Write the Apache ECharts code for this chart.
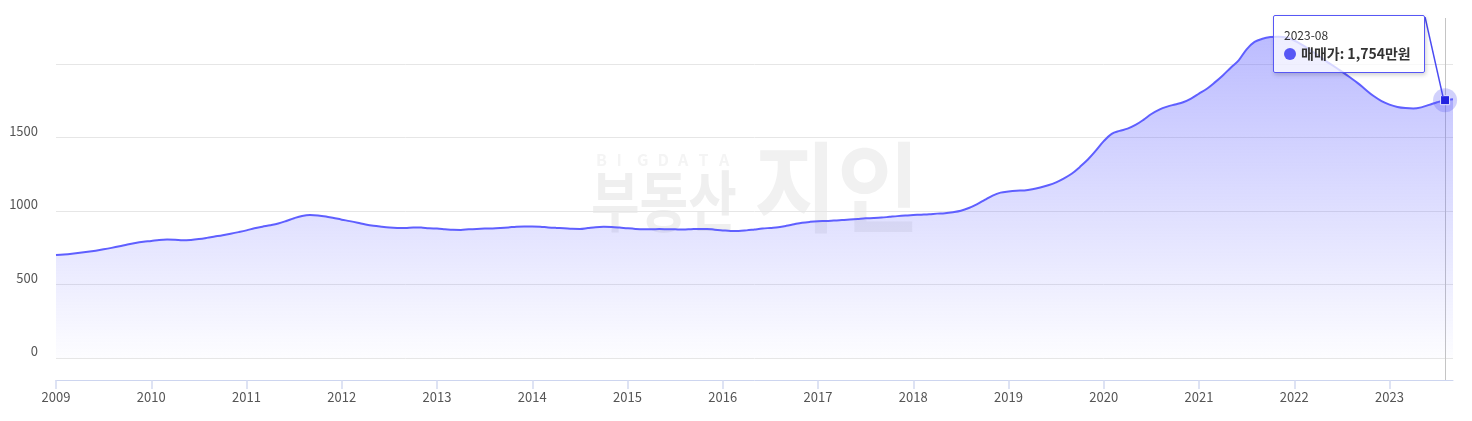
<!DOCTYPE html>
<html><head><meta charset="utf-8">
<script src="https://cdn.jsdelivr.net/npm/echarts@6/dist/echarts.min.js"></script>
<style>html,body{margin:0;padding:0;background:#fff;}#c{width:1472px;height:421px;}</style>
</head><body><div id="c"></div>
<script>
const years = ['2009','2010','2011','2012','2013','2014','2015','2016','2017','2018','2019','2020','2021','2022','2023'];
const monthNames = ['01','02','03','04','05','06','07','08','09','10','11','12'];
const lastMonthIndex2023 = 8; // data runs through 2023-09
const categories = [];
years.forEach(function (y, yi) {
  monthNames.forEach(function (m, mi) {
    if (yi === years.length - 1 && mi > lastMonthIndex2023) return;
    categories.push(y + '-' + m);
  });
});
const seriesName = '매매가';
const unit = '만원';
const prices = [
  700,704,709,715,722,730,739,749,760,772,782,790,
  796,803,806,804,800,803,809,817,826,835,845,856,
  868,882,893,903,915,932,951,966,972,970,963,952,
  941,931,920,908,899,893,888,885,884,888,887,882,
  880,876,872,871,875,878,880,881,884,888,893,895,
  895,893,888,885,883,879,878,884,890,892,891,887,
  882,878,876,876,877,876,875,874,876,878,878,873,
  868,864,864,868,874,880,885,890,899,910,920,926,
  930,932,935,938,942,946,950,952,955,960,965,969,
  972,975,978,982,985,992,1002,1020,1045,1075,1105,1125,
  1133,1138,1140,1148,1160,1175,1195,1222,1255,1300,1350,1410,
  1475,1525,1545,1560,1585,1620,1660,1690,1710,1725,1740,1765,
  1798,1832,1875,1922,1975,2025,2100,2150,2172,2183,2186,2180,
  2160,2130,2095,2058,2020,1985,1948,1910,1870,1825,1782,1748,
  1724,1708,1700,1697,1705,1722,1740,1754,1760
];
const yTicks = [0, 500, 1000, 1500];
const focusCategory = '2023-08';
const focusIndex = categories.indexOf(focusCategory);

function fmt(n) { return String(n).replace(/\B(?=(\d{3})+(?!\d))/g, ','); }

const chart = echarts.init(document.getElementById('c'), null, {renderer: 'canvas'});
const FONT = '"Noto Sans CJK KR", "Noto Sans", sans-serif';
const MAIN = '#5757f5';

const wm = [];
'BIGDATA'.split('').forEach(function (ch, k) {
  wm.push({type: 'text', left: 596 + k * 20.5, top: 152, z: 0,
    style: {text: ch, fontSize: 16, fontFamily: FONT, fill: '#f4f4f4', fontWeight: 'bold'}});
});
wm.push({type: 'text', left: 591, top: 168, z: 0, scaleX: 0.8,
  style: {text: '부동산', fontSize: 66, fontWeight: 'bold', fontFamily: FONT, fill: '#efefef'}});
wm.push({type: 'text', left: 754, top: 138, z: 0, scaleX: 0.92,
  style: {text: '지인', fontSize: 98, fontWeight: 'bold', fontFamily: FONT, fill: '#f1f1f1'}});

chart.setOption({
  animation: false,
  textStyle: {fontFamily: FONT},
  graphic: wm,
  grid: {left: 56, right: 19, top: 18, bottom: 41},
  tooltip: {
    trigger: 'axis',
    triggerOn: 'none',
    alwaysShowContent: true,
    transitionDuration: 0,
    backgroundColor: 'rgba(255,255,255,0.75)',
    borderColor: MAIN,
    borderWidth: 1,
    padding: [10, 10, 10, 10],
    extraCssText: 'box-shadow:1px 2px 4px rgba(0,0,0,0.18);border-radius:2px;width:130px;box-sizing:content-box;',
    axisPointer: {type: 'line', z: 1, lineStyle: {color: '#c4c4c4', width: 1, type: 'solid'}},
    position: function () {
      const p = chart.convertToPixel({gridIndex: 0}, [categories[focusIndex], prices[focusIndex]]);
      return [p[0] - 172, p[1] - 85];
    },
    formatter: function (params) {
      const p = params[0];
      return '<div style="font-family:' + FONT.replace(/"/g, "'") + ';line-height:18px;">' +
        '<div style="font-size:12px;color:#333;">' + p.name + '</div>' +
        '<div style="font-size:14px;color:#333;font-weight:bold;white-space:nowrap;">' +
        '<span style="display:inline-block;width:12px;height:12px;border-radius:6px;background:' + MAIN + ';margin-right:5px;vertical-align:-1px;"></span>' +
        p.seriesName + ': ' + fmt(p.value) + unit + '</div></div>';
    }
  },
  xAxis: {
    type: 'category',
    data: categories,
    boundaryGap: false,
    axisLine: {onZero: false, lineStyle: {color: '#cdd5ef', width: 1}},
    axisTick: {length: 9, lineStyle: {color: '#d3daf1', width: 1.5},
      interval: function (i, v) { return v.slice(5) === '01'; }},
    axisLabel: {color: '#555', fontSize: 13, margin: 11, fontFamily: FONT,
      interval: function (i, v) { return v.slice(5) === '01'; },
      formatter: function (v) { return v.slice(0, 4); }},
    splitLine: {show: false}
  },
  yAxis: {
    type: 'value',
    min: -150,
    max: 2313,
    splitNumber: 5,
    axisLine: {show: false},
    axisTick: {show: false},
    axisLabel: {color: '#555', fontSize: 13, margin: 18, fontFamily: FONT,
      verticalAlign: 'bottom', showMaxLabel: false, showMinLabel: false,
      formatter: function (v) { return yTicks.indexOf(v) >= 0 ? String(v) : ''; }},
    splitLine: {show: true, showMaxLine: false, showMinLine: false, lineStyle: {color: '#e6e6e6', width: 1}}
  },
  series: [{
    name: seriesName,
    type: 'line',
    data: prices,
    smooth: 0.35,
    symbol: 'none',
    lineStyle: {color: MAIN, width: 2},
    itemStyle: {color: MAIN},
    areaStyle: {
      origin: 'auto',
      color: new echarts.graphic.LinearGradient(0, 0, 0, 1, [
        {offset: 0, color: 'rgba(87,87,245,0.6)'},
        {offset: 1, color: 'rgba(87,87,245,0.02)'}
      ])
    },
    markPoint: {
      silent: true,
      label: {show: false},
      data: [
        {coord: [focusCategory, prices[focusIndex]], symbol: 'circle', symbolSize: 24,
          itemStyle: {color: 'rgba(91,91,245,0.28)'}},
        {coord: [focusCategory, prices[focusIndex]], symbol: 'rect', symbolSize: 9,
          itemStyle: {color: '#2323e0', borderColor: '#e8e8ff', borderWidth: 1}}
      ]
    }
  }]
});

chart.dispatchAction({type: 'showTip', seriesIndex: 0, dataIndex: focusIndex});

const pt = chart.convertToPixel({gridIndex: 0}, [focusCategory, prices[focusIndex]]);
chart.setOption({
  graphic: wm.concat([{
    type: 'line', z: 100, silent: true, x: 0, y: 0,
    shape: {x1: pt[0] - 20, y1: pt[1] - 83, x2: pt[0] - 2, y2: pt[1] - 3},
    style: {stroke: '#4a4af2', lineWidth: 1.5}
  }])
});
chart.dispatchAction({type: 'showTip', seriesIndex: 0, dataIndex: focusIndex});
</script>
</body></html>
